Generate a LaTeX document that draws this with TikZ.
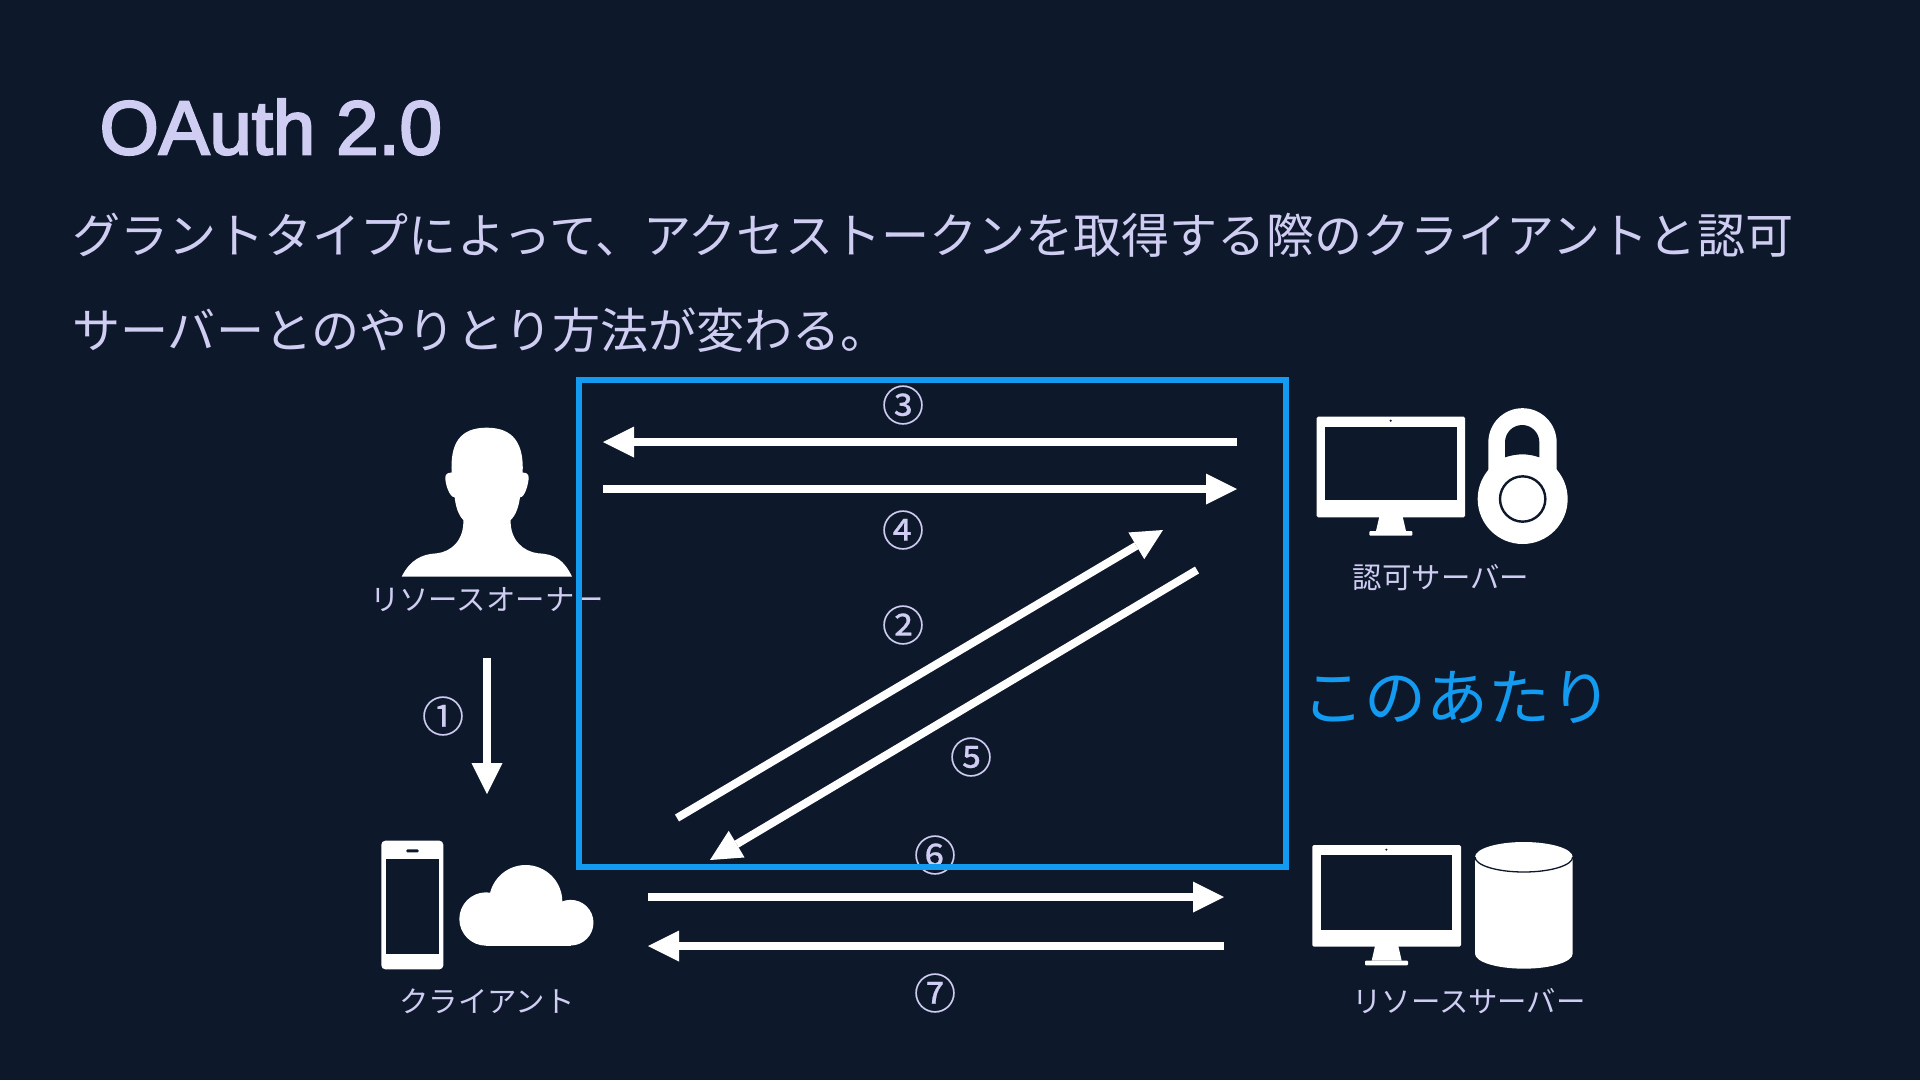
\documentclass[tikz,border=0pt]{standalone}
\usepackage{fontspec}
\setmainfont{Liberation Sans}
\newfontfamily\cjk{Noto Sans CJK JP}
\newfontfamily\cjknum[FakeBold=0.5]{Noto Sans CJK JP}
\newfontfamily\ttlfont[FakeBold=3]{Liberation Sans}
\usetikzlibrary{arrows.meta}
\definecolor{bgc}{HTML}{0D182A}
\definecolor{lav}{HTML}{CFCDF2}
\definecolor{blu}{HTML}{129BF0}
\tikzset{
  x=1pt,y=-1pt,
  txt/.style={text=lav,inner sep=0pt,font=\cjk\fontsize{29.4}{29.4}\selectfont},
  num/.style={text=lav,inner sep=0pt,font=\cjknum\fontsize{42}{42}\selectfont},
  para/.style={text=lav,inner sep=0pt,anchor=west,font=\cjk\fontsize{48.1}{48}\selectfont},
  flow/.style={draw=white,line width=8pt,-{Triangle[length=31pt,width=31pt,line width=0pt]}},
  icon/.style={fill=white,draw=none},
  hole/.style={fill=bgc,draw=none},
}
\begin{document}
\begin{tikzpicture}
\useasboundingbox (0,0) rectangle (1920,1080);
\fill[bgc] (0,0) rectangle (1920,1080);
% texts
\node[text=lav,inner sep=0pt,anchor=west,font=\ttlfont\fontsize{76}{76}\selectfont] (title) at (99.5,127) {OAuth 2.0};
\node[para] (l1) at (72,235) {グラントタイプによって、アクセストークンを取得する際のクライアントと認可};
\node[para] (l2) at (72,330) {サーバーとのやりとり方法が変わる。};
\node[txt] (owner) at (487,600) {リソースオーナー};
\node[txt] (auth) at (1441,578) {認可サーバー};
\node[txt] (client) at (487,1001) {クライアント};
\node[txt] (res) at (1469,1001) {リソースサーバー};
\node[inner sep=0pt,text=blu,font=\cjk\fontsize{62}{62}\selectfont] (here) at (1457,697) {このあたり};
\node[num] (n3) at (903,405) {③};
\node[num] (n4) at (903,530) {④};
\node[num] (n2) at (903,625) {②};
\node[num] (n1) at (443,716) {①};
\node[num] (n5) at (971,757) {⑤};
\node[num] (n6) at (935,855) {⑥};
\node[num] (n7) at (935,993) {⑦};
% highlight box
\draw[blu,line width=6pt] (578.5,380) rectangle (1286,866.5);
% connector ends
\coordinate (a3s) at (1237,442); \coordinate (a3e) at (603,442);
\coordinate (a4s) at (603,489); \coordinate (a4e) at (1237,489);
\coordinate (a2s) at (677,818); \coordinate (a2e) at (1163,530);
\coordinate (a5s) at (1197,570); \coordinate (a5e) at (710,860);
\coordinate (a6s) at (648,897); \coordinate (a6e) at (1224,897);
\coordinate (a7s) at (1224,946); \coordinate (a7e) at (648,946);
\coordinate (a1s) at (487,658); \coordinate (a1e) at (487,794);
\draw[flow] (a3s) -- (a3e);
\draw[flow] (a4s) -- (a4e);
\draw[flow] (a2s) -- (a2e);
\draw[flow] (a5s) -- (a5e);
\draw[flow] (a6s) -- (a6e);
\draw[flow] (a7s) -- (a7e);
\draw[flow] (a1s) -- (a1e);
% person
\begin{scope}[shift={(360,400)},scale=1/3]
\fill[icon] (125,530) .. controls (150,480) and (185,462) .. (230,460)
 .. controls (275,455) and (312,420) .. (310,360)
 .. controls (295,345) and (287,320) .. (284,292)
 .. controls (268,292) and (255,250) .. (256,232)
 .. controls (256,222) and (265,217) .. (275,218)
 .. controls (270,130) and (300,83) .. (380,83)
 .. controls (460,83) and (492,130) .. (488,218)
 .. controls (498,217) and (506,222) .. (506,232)
 .. controls (506,250) and (495,292) .. (480,292)
 .. controls (476,320) and (468,345) .. (452,360)
 .. controls (450,420) and (490,455) .. (535,460)
 .. controls (585,462) and (612,480) .. (636,530) -- cycle;
\end{scope}
% auth server
\begin{scope}[shift={(1300,390)},scale=1/3]
\fill[icon,rounded corners=1.5pt] (50,80) rectangle (495,382);
\fill[hole] (76,110) rectangle (470,331);
\fill[hole] (272,92) circle[radius=3.5];
\fill[icon] (238,380) -- (308,380) -- (318,423) -- (228,423) -- cycle;
\fill[icon,rounded corners=1pt] (208,423) rectangle (337,437);
\fill[icon] (565,240) -- (565,157) arc[start angle=180,end angle=360,radius=102.5] -- (770,240) -- cycle;
\fill[icon] (668,327) circle[radius=135];
\fill[hole] (615,157) -- (615,202) .. controls (650,190) and (685,190) .. (718,202) -- (718,157) arc[start angle=360,end angle=180,x radius=51.5,y radius=52] -- cycle;
\draw[bgc,line width=2.4pt] (668,327) circle[radius=68];
\end{scope}
% client
\begin{scope}[shift={(360,820)},scale=1/3]
\fill[icon,rounded corners=4pt] (64,62) rectangle (250,448);
\fill[hole] (77,117) rectangle (238,402);
\fill[hole,rounded corners=1.2pt] (139,88) rectangle (176,97);
\fill[icon] (378,297) circle[radius=80];
\fill[icon] (632,308) circle[radius=68.5];
\fill[icon] (497,245) circle[radius=110];
\fill[icon] (378,280) rectangle (632,377);
\end{scope}
% resource server
\begin{scope}[shift={(1290,820)},scale=1/3]
\fill[icon,rounded corners=1.5pt] (67,75) rectangle (513,380);
\fill[hole] (92,104) rectangle (487,329);
\fill[hole] (289,89) circle[radius=3.5];
\fill[icon] (255,378) -- (325,378) -- (335,422) -- (245,422) -- cycle;
\fill[icon,rounded corners=1pt] (225,422) rectangle (354,436);
\fill[icon] (555,111) -- (555,401) arc[start angle=180,end angle=0,x radius=146.5,y radius=45] -- (848,111) arc[start angle=360,end angle=180,x radius=146.5,y radius=45] -- cycle;
\draw[bgc,line width=1.3pt] (555,111) arc[start angle=180,end angle=0,x radius=146.5,y radius=45];
\end{scope}
\end{tikzpicture}
\end{document}
